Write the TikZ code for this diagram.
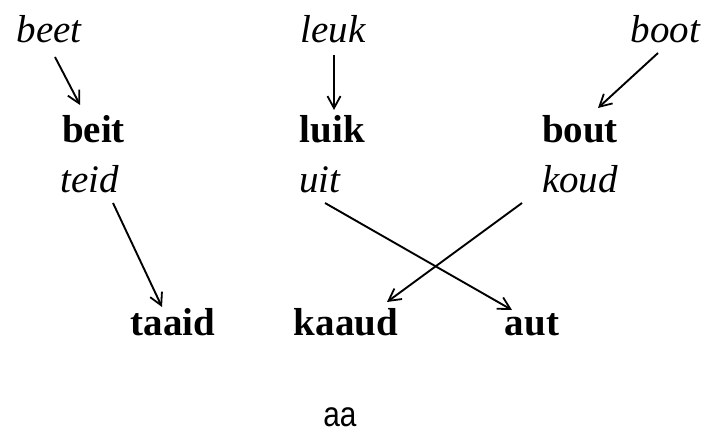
\documentclass[tikz,border=0pt]{standalone}
\usepackage{fontspec}
\setmainfont{Liberation Serif}
\newfontfamily\capfont{Liberation Sans}
\usetikzlibrary{arrows.meta,calc}
\begin{document}
\begin{tikzpicture}[x=1pt,y=-1pt,
  font=\fontsize{39}{44}\selectfont,
  lbl/.style={inner sep=0pt, anchor=base},
  src/.style={lbl, font=\fontsize{39}{44}\selectfont\itshape},
  tgt/.style={lbl, font=\fontsize{39}{44}\selectfont\bfseries},
  arr/.style={-{Straight Barb[length=12pt,width=13pt,line width=1.8pt]}, line width=1.9pt}]
\useasboundingbox (0,0) rectangle (707,433);
% top row
\node[src] (beet) at (49,43) {beet};
\node[src] (leuk) at (333,43) {leuk};
\node[src] (boot) at (665.5,43) {boot};
% middle row
\node[tgt] (beit) at (93.5,143) {beit};
\node[tgt] (luik) at (332.5,143) {luik};
\node[tgt] (bout) at (580,143) {bout};
\node[src] (teid) at (90,193) {teid};
\node[src] (uit) at (320,193) {uit};
\node[src] (koud) at (580,193) {koud};
% bottom row
\node[tgt] (taaid) at (173,335) {taaid};
\node[tgt] (kaaud) at (346,335) {kaaud};
\node[tgt] (aut) at (532,335) {aut};
% caption
\node[lbl, font=\fontsize{35}{40}\selectfont\capfont, xscale=0.85] (aa) at (340,426) {aa};
% arrows
\draw[arr] ([shift={(6,14)}]beet.base) -- ([shift={(-13.5,-38)}]beit.base);
\draw[arr] ([shift={(1,12)}]leuk.base) -- ([shift={(1.5,-33)}]luik.base);
\draw[arr] ([shift={(-7.5,10)}]boot.base) -- ([shift={(18,-35)}]bout.base);
\draw[arr] ([shift={(23,10)}]teid.base) -- ([shift={(-11,-28)}]taaid.base);
\draw[arr] ([shift={(5,10)}]uit.base) -- ([shift={(-20,-25)}]aut.base);
\draw[arr] ([shift={(-58,10)}]koud.base) -- ([shift={(41,-33)}]kaaud.base);
\end{tikzpicture}
\end{document}
